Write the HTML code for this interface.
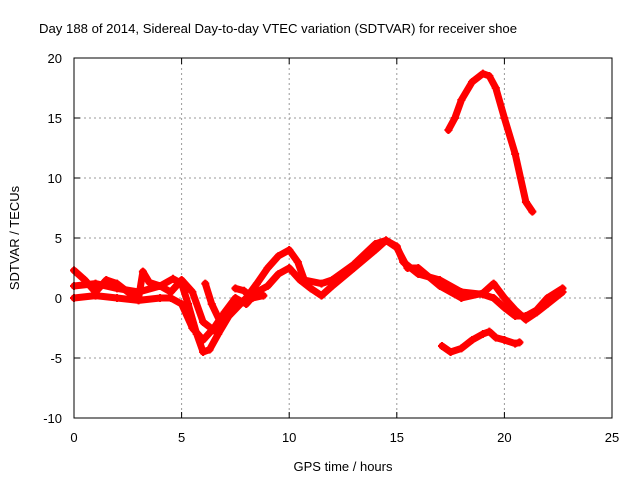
<!DOCTYPE html>
<html><head><meta charset="utf-8"><style>
html,body{margin:0;padding:0;background:#fff;}
svg{display:block;font-family:"Liberation Sans",sans-serif;}
</style></head><body>
<svg id="chart" width="640" height="480" viewBox="0 0 640 480">
<rect x="0" y="0" width="640" height="480" fill="#fff"/>
<text x="39" y="33" font-size="13" textLength="478" lengthAdjust="spacingAndGlyphs">Day 188 of 2014, Sidereal Day-to-day VTEC variation (SDTVAR) for receiver shoe</text>
<g id="grid"></g>
<g id="ticks"></g>
<g id="series"></g>
<rect x="74" y="58" width="538" height="360" fill="none" stroke="#000" stroke-width="1"/>
<text x="343" y="471" font-size="13" text-anchor="middle">GPS time / hours</text>
<text transform="translate(19,238) rotate(-90)" font-size="13" text-anchor="middle">SDTVAR / TECUs</text>
</svg>
<script>
const xTicks=[0,5,10,15,20,25];
const yTicks=[-10,-5,0,5,10,15,20];
const s1H=[0,1,2,3,4,4.6,5,5.3,5.7,6.0,6.3,6.7,7.2,8,8.5,9,9.5,10,10.4,10.7,11.5,12,13,14,14.5,15,15.3,16,17,18,19,19.5,20,20.5,21,21.5,22,22.7];
const s1V=[1.0,1.2,0.8,0.5,1.0,1.6,1.2,-0.5,-3,-4.5,-4.3,-3,-1.5,0,1.2,2.5,3.5,4.0,3,1.5,1.2,1.5,2.8,4.5,4.8,4.3,3,2,1.5,0.5,0.3,0,-0.8,-1.5,-1.5,-1,0,0.8];
const s2H=[0,1,2,3,4,4.5,5,5.5,6,6.5,7,7.5,8,8.5,9,9.5,10,10.5,11,11.5,12,13,14,14.5,15,15.5,16,17,18,19,19.5,20,20.5,21,21.5,22,22.7];
const s2V=[0,0.2,0,-0.2,0,0,-0.5,-2.5,-3.5,-2.5,-1.2,0,-0.5,0.5,1.0,2,2.5,1.5,0.8,0.2,1,2.5,4,4.8,4.2,2.5,2.5,1,0,0.4,1.2,0,-1,-1.8,-1.2,-0.5,0.5];
const s3H=[0,0.5,1,1.5,2,2.5,3,3.2,3.5,4,4.5,5,5.5,6,6.5,7,7.5];
const s3V=[2.3,1.5,0.5,1.5,1.2,0.5,0,2.2,1.3,1,0.5,1.5,0.5,-2,-2.7,-1.5,-0.5];
const s4H=[6.1,6.4,6.8];
const s4V=[1.2,-0.5,-2];
const s5H=[7.5,7.9,8.3,8.8];
const s5V=[0.8,0.6,0,0.2];
const s6H=[17.4,17.7,18,18.5,19,19.3,19.6,20,20.5,21,21.3];
const s6V=[14,15,16.5,18,18.7,18.5,17.5,15,12,8,7.2];
const s7H=[17.1,17.5,18,18.5,19,19.3,19.6,20,20.5,20.7];
const s7V=[-4,-4.5,-4.2,-3.5,-3,-2.8,-3.3,-3.5,-3.8,-3.7];
const allSeries=[[s1H,s1V],[s2H,s2V],[s3H,s3V],[s4H,s4V],[s5H,s5V],[s6H,s6V],[s7H,s7V]];

const NS="http://www.w3.org/2000/svg";
const X=h=>74+h*(538/25);
const Y=v=>298-v*12;
const grid=document.getElementById('grid'),ticks=document.getElementById('ticks'),ser=document.getElementById('series');
function mk(tag,attrs,parent){const e=document.createElementNS(NS,tag);for(const k in attrs)e.setAttribute(k,attrs[k]);parent.appendChild(e);return e;}
xTicks.forEach(t=>{
  const x=X(t);
  if(t>0&&t<25){const g=mk('line',{x1:x,y1:58,x2:x,y2:418,stroke:'#999','stroke-dasharray':'2,3'},grid);
  
  }
  const l=mk('path',{d:`M${x},418v-6M${x},58v6`,stroke:'#000'},ticks);
  
  
  const tx=mk('text',{x:x,y:442,'font-size':13,'text-anchor':'middle'},ticks);tx.textContent=t;
  
  
});
yTicks.forEach(t=>{
  const y=Y(t);
  if(t>-10&&t<20){const g=mk('line',{x1:74,y1:y,x2:612,y2:y,stroke:'#999','stroke-dasharray':'2,3'},grid);
  
  }
  const l=mk('path',{d:`M74,${y}h6M612,${y}h-6`,stroke:'#000'},ticks);
  
  
  const tx=mk('text',{x:62,y:y+5,'font-size':13,'text-anchor':'end'},ticks);tx.textContent=t;
  
  
});
allSeries.forEach(([hs,vs],i)=>{
  const d=hs.map((h,j)=>(j?'L':'M')+X(h).toFixed(1)+','+Y(vs[j]).toFixed(1)).join('');
  const p=mk('path',{d:d,fill:'none',stroke:'#ff0000','stroke-width':7,'stroke-linejoin':'round','stroke-linecap':'round'},ser);
  
  
  hs.forEach((h,j)=>{
    const x=X(h),y=Y(vs[j]);
    const m=mk('path',{d:`M${x-4},${y}h8M${x},${y-4}v8`,stroke:'#ff0000','stroke-width':2},ser);
    
    
  });
});
</script>
</body></html>
